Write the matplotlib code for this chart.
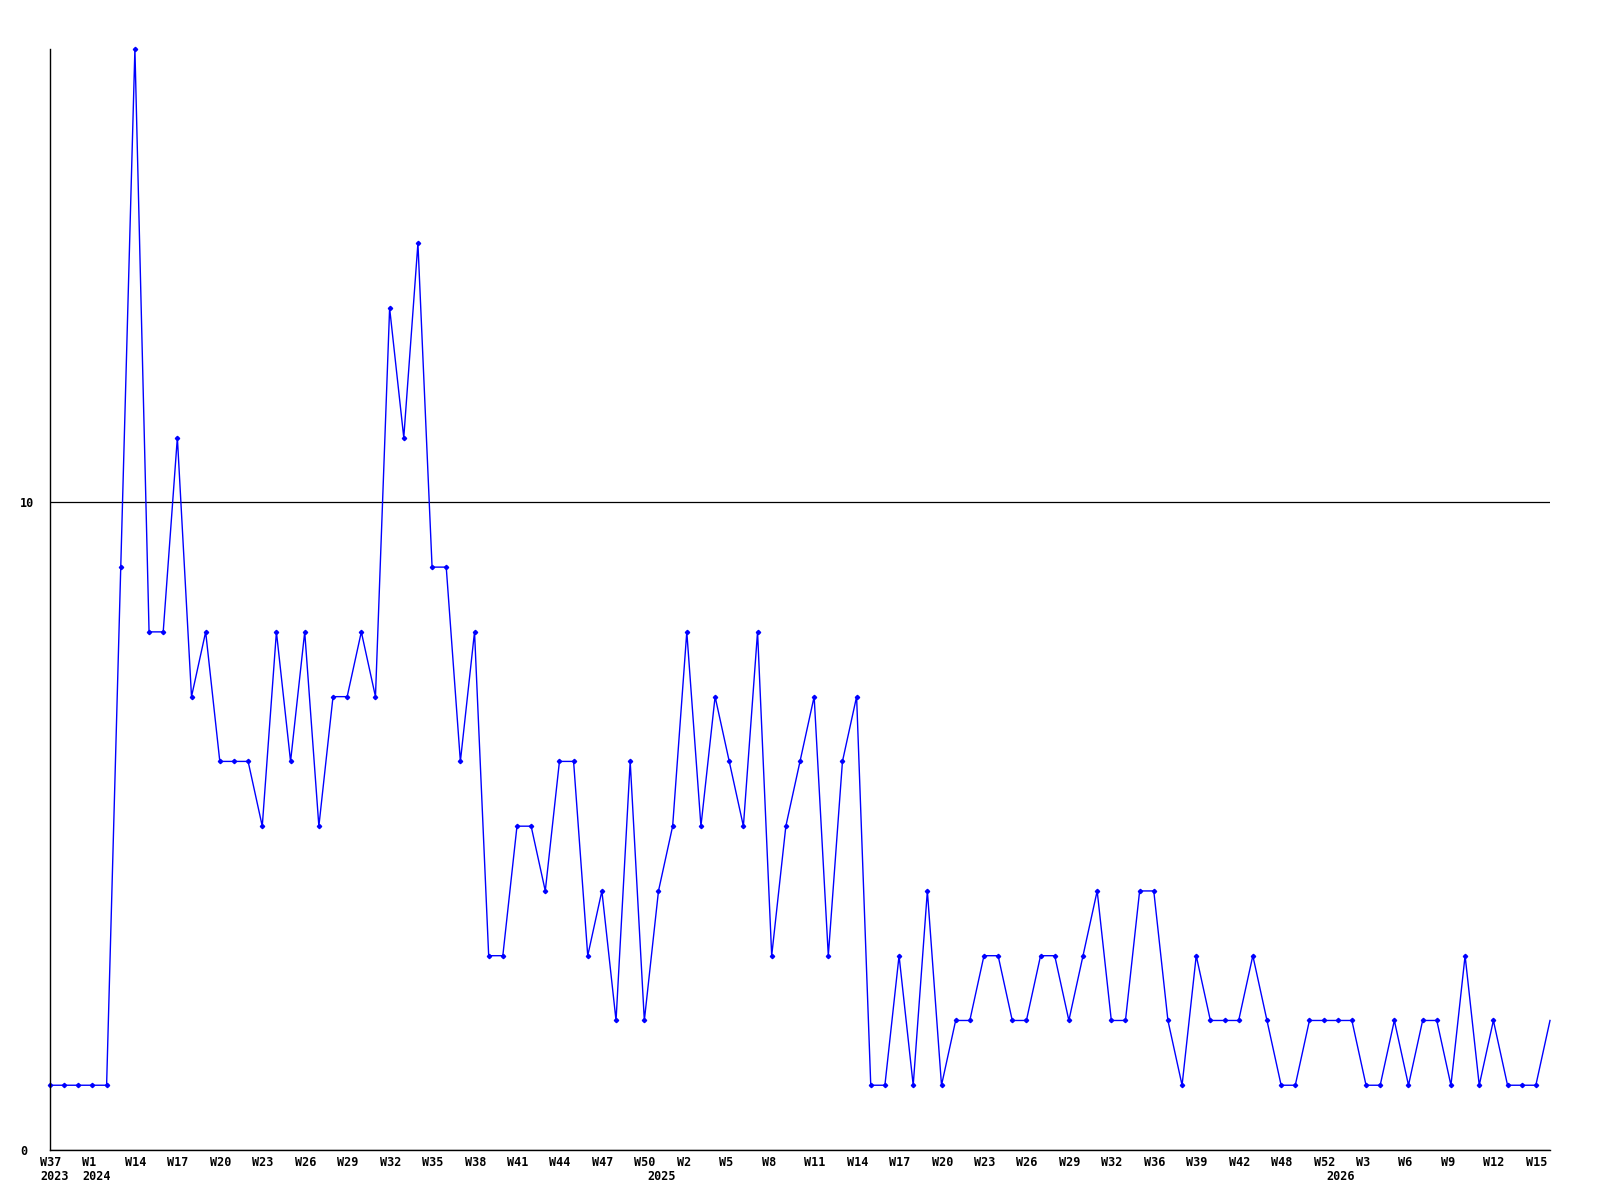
import numpy as np
import matplotlib
matplotlib.use("Agg")
import matplotlib.pyplot as plt
import matplotlib.transforms as mtrans

# weekly counts, one point per week that has data
counts = [1, 1, 1, 1, 1, 9, 17, 8, 8, 11, 7, 8, 6, 6, 6, 5, 8, 6, 8, 5,
          7, 7, 8, 7, 13, 11, 14, 9, 9, 6, 8, 3, 3, 5, 5, 4, 6, 6, 3, 4,
          2, 6, 2, 4, 5, 8, 5, 7, 6, 5, 8, 3, 5, 6, 7, 3, 6, 7, 1, 1,
          3, 1, 4, 1, 2, 2, 3, 3, 2, 2, 3, 3, 2, 3, 4, 2, 2, 4, 4, 2,
          1, 3, 2, 2, 2, 3, 2, 1, 1, 2, 2, 2, 2, 1, 1, 2, 1, 2, 2, 1,
          3, 1, 2, 1, 1, 1, 2]

# x labels every third point
week_labels = ["W37", "W1", "W14", "W17", "W20", "W23", "W26", "W29", "W32",
               "W35", "W38", "W41", "W44", "W47", "W50", "W2", "W5", "W8",
               "W11", "W14", "W17", "W20", "W23", "W26", "W29", "W32", "W36",
               "W39", "W42", "W48", "W52", "W3", "W6", "W9", "W12", "W15"]
label_step = 3
year_labels = {0: "2023", 3: "2024", 45: "2025", 93: "2026"}
year_right = [45, 93]   # these years sit left of their week label

y_ticks = [0, 10]

fig = plt.figure(figsize=(16, 12), dpi=100)
ax = fig.add_axes([50 / 1600, 50 / 1200, 1500 / 1600, 1101 / 1200])

x = np.arange(len(counts))
ax.plot(x, counts, color="#0000ff", lw=1.0, marker="D", ms=2.2,
        markevery=list(range(len(counts) - 1)), clip_on=False)

ax.set_xlim(0, len(counts) - 1)
ax.set_ylim(0, max(counts))

for s in ["top", "right"]:
    ax.spines[s].set_visible(False)
for s in ["left", "bottom"]:
    ax.spines[s].set_color("black")
    ax.spines[s].set_linewidth(1.0)

ax.set_yticks(y_ticks)
ax.set_yticklabels([str(v) for v in y_ticks])
ax.yaxis.grid(True, color="black", lw=0.9)
ax.set_axisbelow(True)
ax.tick_params(axis="y", length=0, pad=21.6)
for lab in ax.get_yticklabels():
    lab.set_ha("left")
    lab.set_fontfamily("DejaVu Sans Mono")
    lab.set_fontweight("bold")
    lab.set_fontsize(8.5)
ax.set_xticks([])

font = dict(family="DejaVu Sans Mono", weight="bold", size=8.5)
xt = ax.get_xaxis_transform()
for i, lab in enumerate(week_labels):
    pos = i * label_step
    off = mtrans.ScaledTranslation(-0.10, -0.12, fig.dpi_scale_trans)
    ax.text(pos, 0, lab, transform=xt + off, ha="left", va="center",
            clip_on=False, **font)
for pos, yr in year_labels.items():
    if pos in year_right:
        off = mtrans.ScaledTranslation(-0.11, -0.27, fig.dpi_scale_trans)
        ha = "right"
    else:
        off = mtrans.ScaledTranslation(-0.10, -0.27, fig.dpi_scale_trans)
        ha = "left"
    ax.text(pos, 0, yr, transform=xt + off, ha=ha, va="center",
            clip_on=False, **font)

fig.savefig("out.png", dpi=100, facecolor="white")
